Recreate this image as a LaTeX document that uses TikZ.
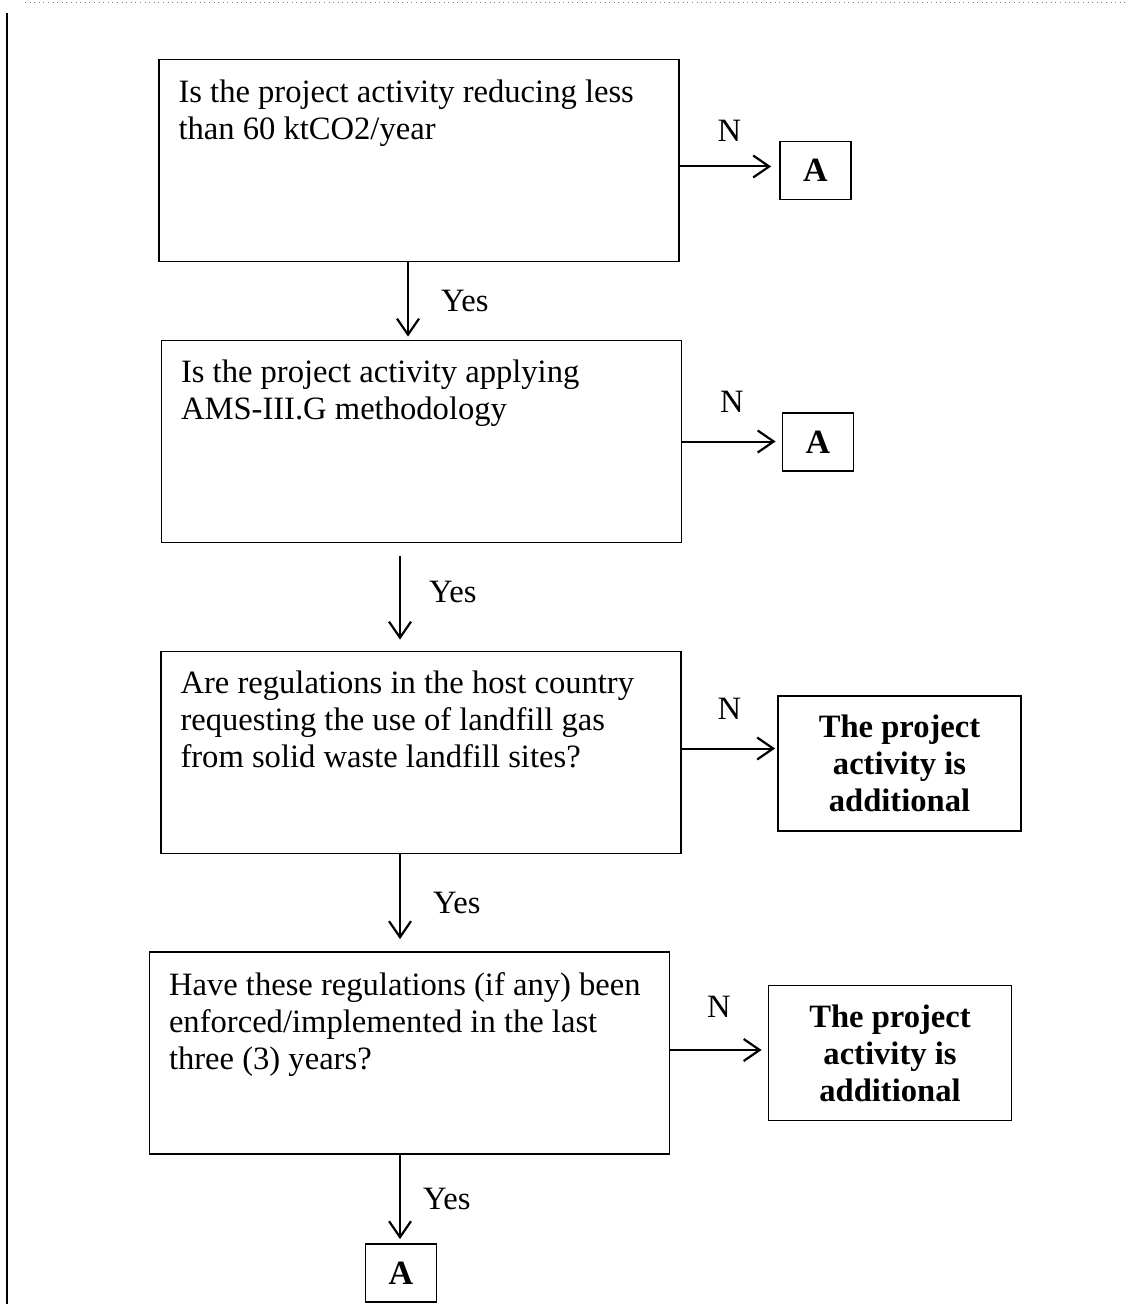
\documentclass[tikz,border=0pt]{standalone}
\usepackage{fontspec}
\setmainfont{Liberation Serif}
\usepackage{tikz}
\usetikzlibrary{arrows.meta, positioning, calc}

\begin{document}
\begin{tikzpicture}[x=0.5pt,y=-0.5pt,
    qbox/.style={draw,line width=0.9pt,minimum width=260pt,minimum height=101pt,inner sep=0pt},
    qtext/.style={anchor=north west,align=left,inner sep=0pt,font=\fontsize{16.3}{18.5}\selectfont},
    abox/.style={draw,line width=0.9pt,minimum width=35.5pt,minimum height=29pt,inner sep=0pt,font=\fontsize{17}{18.5}\selectfont\bfseries},
    endbox/.style={draw,line width=0.9pt,minimum width=121.5pt,minimum height=67.5pt,inner sep=0pt,align=center,font=\fontsize{16.3}{18.5}\selectfont\bfseries},
    flow/.style={line width=1pt,-{Straight Barb[length=8pt,width=11pt,line width=1.1pt]}},
    lbl/.style={font=\fontsize{16.3}{18}\selectfont,inner sep=1pt}]
    \useasboundingbox (0,0) rectangle (1128,1304);

    % page rules
    \draw[gray,line width=0.3pt,dotted] (25,2) -- (1128,2);
    \draw[line width=1.4pt] (7,13) -- (7,1304);

    % questions
    \node[qbox] (q1) at (419,160.5) {};
    \node[qtext] (t1) at ($(q1.north west)+(10pt,-10.5pt)$)
      {Is the project activity reducing less\\than 60 ktCO2/year};
    \node[qbox] (q2) at (421.5,441.5) {};
    \node[qtext] (t2) at ($(q2.north west)+(10pt,-10pt)$)
      {Is the project activity applying\\AMS-III.G methodology};
    \node[qbox] (q3) at (421,752.5) {};
    \node[qtext] (t3) at ($(q3.north west)+(10pt,-10pt)$)
      {Are regulations in the host country\\requesting the use of landfill gas\\from solid waste landfill sites?};
    \node[qbox] (q4) at (409.5,1053) {};
    \node[qtext] (t4) at ($(q4.north west)+(10pt,-10.5pt)$)
      {Have these regulations (if any) been\\enforced/implemented in the last\\three (3) years?};

    % outcomes
    \node[abox] (a1) at (815.5,170.5) {A};
    \node[abox] (a2) at (818,442) {A};
    \node[endbox] (d3) at (899.5,763.5) {The project\\activity is\\additional};
    \node[endbox] (d4) at (890,1053) {The project\\activity is\\additional};
    \node[abox] (a5) at (401,1273) {A};

    % no branches
    \draw[flow,shorten >=4pt] ([yshift=-3pt]q1.east) -- ([yshift=-3pt]q1.east -| a1.west)
      node[lbl,midway,above=11pt] {N};
    \draw[flow,shorten >=3pt] (q2.east) -- (q2.east -| a2.west)
      node[lbl,midway,above=13pt] {N};
    \draw[flow,shorten >=1pt] ([yshift=2pt]q3.east) -- ([yshift=2pt]q3.east -| d3.west)
      node[lbl,midway,above=13pt] {N};
    \draw[flow,shorten >=3pt] ([yshift=1.5pt]q4.east) -- ([yshift=1.5pt]q4.east -| d4.west)
      node[lbl,midway,above=15pt] {N};

    % yes branches
    \draw[flow,shorten >=1.5pt] ([xshift=-5.5pt]q1.south) -- ([xshift=-5.5pt]q1.south |- q2.north)
      node[lbl,midway,right=15pt] {Yes};
    \draw[flow,shorten <=6.5pt,shorten >=5.5pt] ([xshift=-10.75pt]q2.south) -- ([xshift=-10.75pt]q2.south |- q3.north)
      node[lbl,pos=0.45,right=13pt] {Yes};
    \draw[flow,shorten >=6pt] ([xshift=-10.5pt]q3.south) -- ([xshift=-10.5pt]q3.south |- q4.north)
      node[lbl,midway,right=15pt] {Yes};
    \draw[flow,shorten >=2pt] ([xshift=-4.75pt]q4.south) -- ([xshift=-4.75pt]q4.south |- a5.north)
      node[lbl,midway,right=10pt] {Yes};
\end{tikzpicture}
\end{document}
